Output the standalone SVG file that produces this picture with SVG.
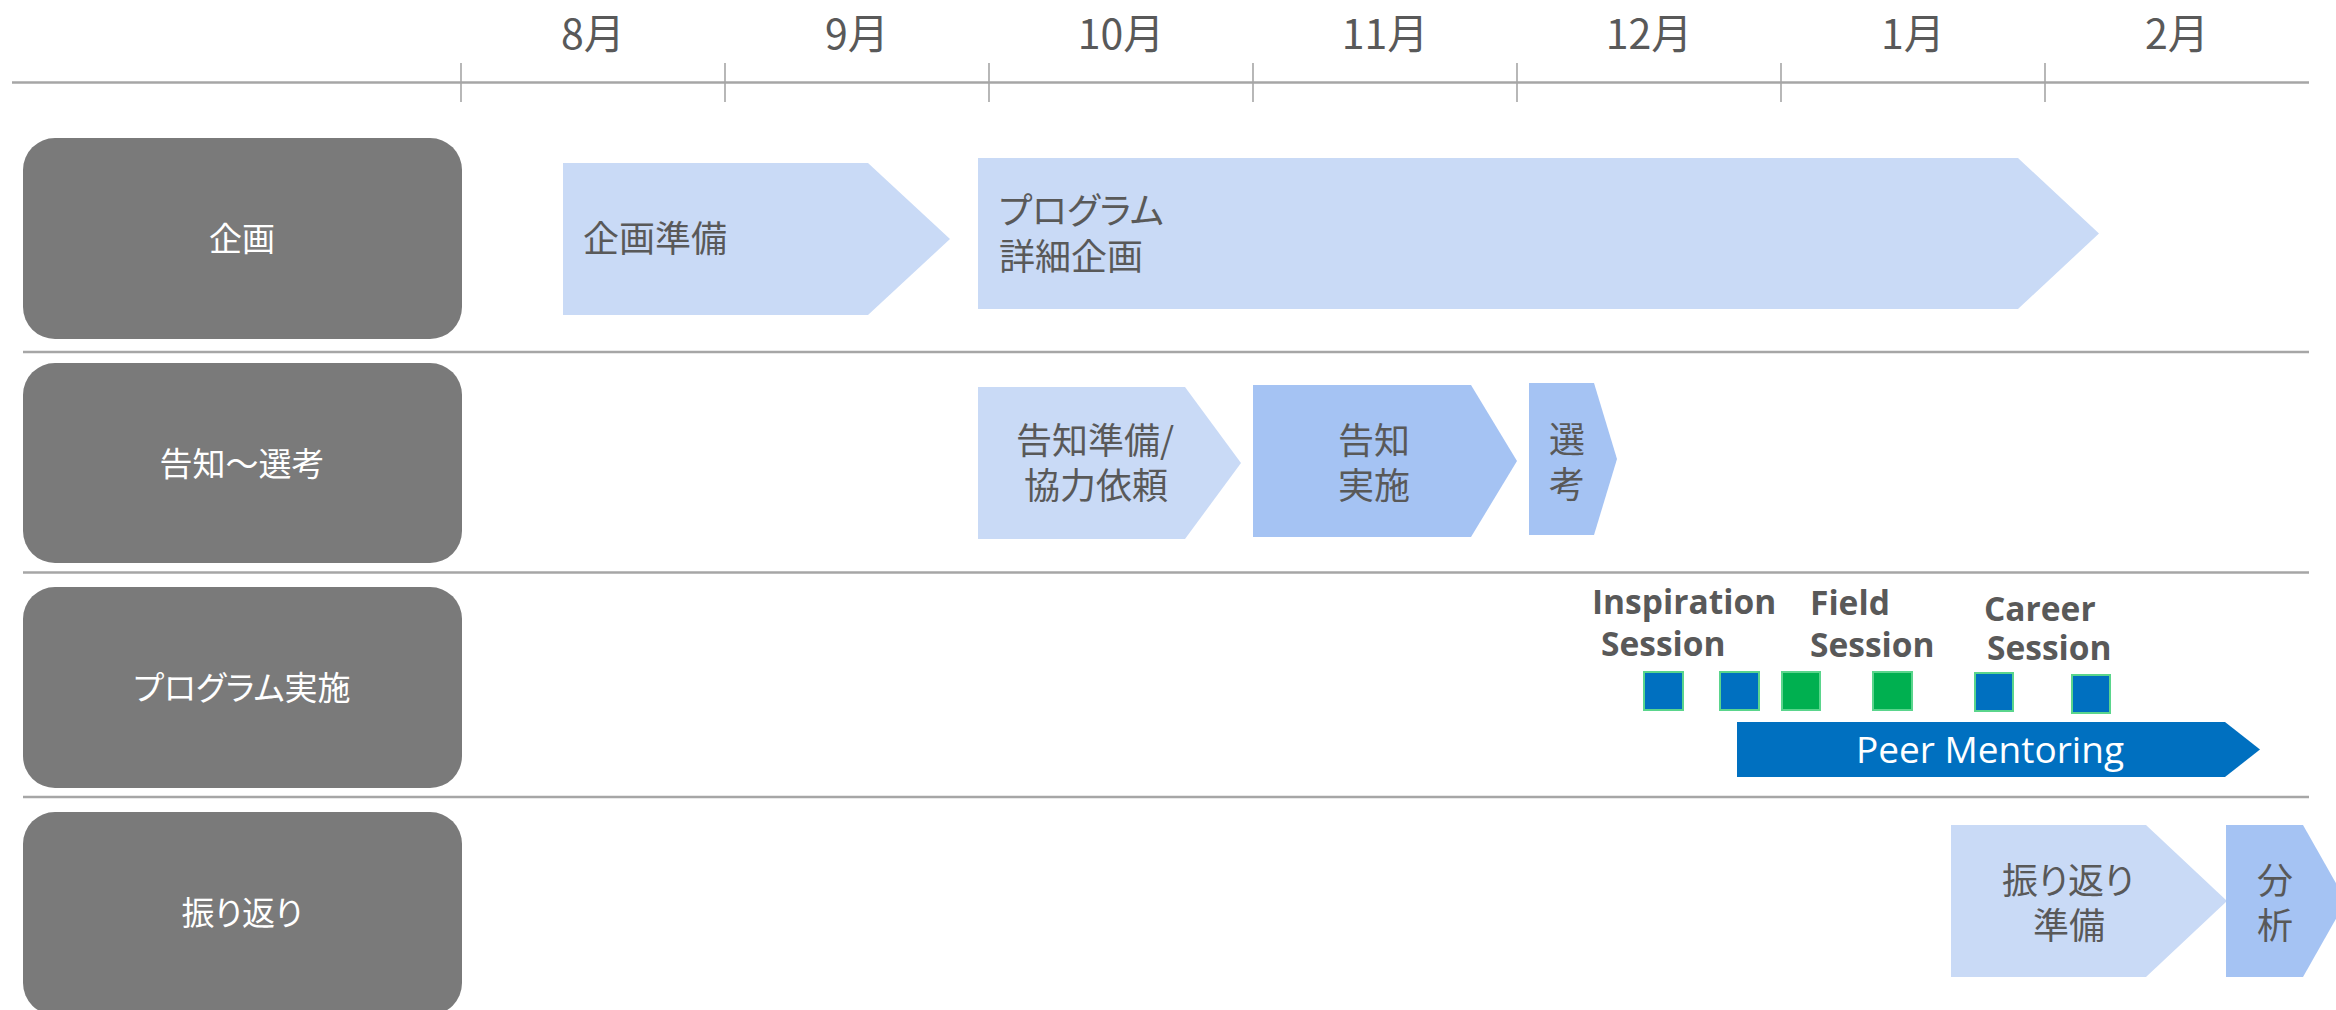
<svg xmlns="http://www.w3.org/2000/svg" width="2336" height="1010" viewBox="0 0 2336 1010">
<style>
.grid{stroke:#A6A6A6;stroke-width:2.5;fill:none}
.tick{stroke:#A6A6A6;stroke-width:1.6}
.month{font-family:"Noto Sans CJK JP","Liberation Sans",sans-serif;font-size:41px;fill:#595959;text-anchor:middle}
.lane{fill:#7A7A7A}
.laneText{font-family:"Noto Sans CJK JP",sans-serif;font-size:33px;fill:#FFFFFF;text-anchor:middle}
.light{fill:#C9DAF6}
.dark{fill:#A5C3F3}
.task{font-family:"Noto Sans CJK JP",sans-serif;font-size:36px;fill:#595959}
.mid{text-anchor:middle}
.palt{font-feature-settings:"palt"}
.blueSq{fill:#0070C0;stroke:#5AD58C;stroke-width:2}
.greenSq{fill:#00B050;stroke:#5AD58C;stroke-width:2}
.sess{font-family:"Open Sans","Liberation Sans",sans-serif;font-weight:bold;font-size:33.5px;fill:#595959}
.pm{fill:#0070C0}
.pmText{font-family:"Open Sans","Liberation Sans",sans-serif;font-size:37px;fill:#FFFFFF;text-anchor:middle}
</style>
<rect width="2336" height="1010" fill="#FFFFFF"/>

<g id="timeline">
  <line class="grid" x1="12" y1="82.5" x2="2309" y2="82.5"/>
  <line class="tick" x1="461" y1="63" x2="461" y2="102"/>
  <line class="tick" x1="725" y1="63" x2="725" y2="102"/>
  <line class="tick" x1="989" y1="63" x2="989" y2="102"/>
  <line class="tick" x1="1253" y1="63" x2="1253" y2="102"/>
  <line class="tick" x1="1517" y1="63" x2="1517" y2="102"/>
  <line class="tick" x1="1781" y1="63" x2="1781" y2="102"/>
  <line class="tick" x1="2045" y1="63" x2="2045" y2="102"/>
  <text class="month" x="593" y="49">8月</text>
  <text class="month" x="857" y="49">9月</text>
  <text class="month" x="1121" y="49">10月</text>
  <text class="month" x="1385" y="49">11月</text>
  <text class="month" x="1649" y="49">12月</text>
  <text class="month" x="1913" y="49">1月</text>
  <text class="month" x="2177" y="49">2月</text>
</g>

<g id="row-dividers">
  <line class="grid" x1="23" y1="352" x2="2309" y2="352"/>
  <line class="grid" x1="23" y1="572.5" x2="2309" y2="572.5"/>
  <line class="grid" x1="23" y1="797" x2="2309" y2="797"/>
</g>

<g id="lane-kikaku">
  <rect class="lane" x="23" y="138" width="439" height="201" rx="32" ry="32"/>
  <text class="laneText" x="242" y="251">企画</text>
</g>
<g id="lane-kokuchi">
  <rect class="lane" x="23" y="363" width="439" height="200" rx="32" ry="32"/>
  <text class="laneText" x="242" y="476">告知～選考</text>
</g>
<g id="lane-program">
  <rect class="lane" x="23" y="587" width="439" height="201" rx="32" ry="32"/>
  <text class="laneText palt" x="242" y="700">プログラム実施</text>
</g>
<g id="lane-furikaeri">
  <rect class="lane" x="23" y="812" width="439" height="203" rx="32" ry="32"/>
  <text class="laneText palt" x="242" y="925">振り返り</text>
</g>

<g id="task-kikaku-junbi">
  <polygon class="light" points="563,163 868,163 950,239 868,315 563,315"/>
  <text class="task" x="583" y="252">企画準備</text>
</g>
<g id="task-program-shosai">
  <polygon class="light" points="978,158 2018,158 2099,233.5 2018,309 978,309"/>
  <text class="task palt" x="999" y="224">プログラム</text>
  <text class="task" x="999" y="270">詳細企画</text>
</g>
<g id="task-kokuchi-junbi">
  <polygon class="light" points="978,387 1185,387 1241,463 1185,539 978,539"/>
  <text class="task mid" x="1095" y="454">告知準備/</text>
  <text class="task mid" x="1096" y="499">協力依頼</text>
</g>
<g id="task-kokuchi-jisshi">
  <polygon class="dark" points="1253,385 1471,385 1517,461 1471,537 1253,537"/>
  <text class="task mid" x="1374" y="454">告知</text>
  <text class="task mid" x="1374" y="499">実施</text>
</g>
<g id="task-senko">
  <polygon class="dark" points="1529,383 1594,383 1617,459 1594,535 1529,535"/>
  <text class="task mid" x="1567" y="453">選</text>
  <text class="task mid" x="1567" y="498">考</text>
</g>

<g id="label-inspiration">
  <text class="sess" x="1592" y="614">Inspiration</text>
  <text class="sess" x="1601" y="656">Session</text>
</g>
<g id="label-field">
  <text class="sess" x="1810" y="615">Field</text>
  <text class="sess" x="1810" y="657">Session</text>
</g>
<g id="label-career">
  <text class="sess" x="1984" y="621">Career</text>
  <text class="sess" x="1987" y="660">Session</text>
</g>

<g id="session-1"><rect class="blueSq" x="1644" y="672" width="39" height="38"/></g>
<g id="session-2"><rect class="blueSq" x="1720" y="672" width="39" height="38"/></g>
<g id="session-3"><rect class="greenSq" x="1782" y="672" width="38" height="38"/></g>
<g id="session-4"><rect class="greenSq" x="1873" y="672" width="39" height="38"/></g>
<g id="session-5"><rect class="blueSq" x="1975" y="673" width="38" height="38"/></g>
<g id="session-6"><rect class="blueSq" x="2072" y="675" width="38" height="38"/></g>

<g id="task-peer-mentoring">
  <polygon class="pm" points="1737,722 2225,722 2260,749.5 2225,777 1737,777"/>
  <text class="pmText" x="1990" y="763">Peer Mentoring</text>
</g>

<g id="task-furikaeri-junbi">
  <polygon class="light" points="1951,825 2146,825 2227,901 2146,977 1951,977"/>
  <text class="task mid palt" x="2068" y="894">振り返り</text>
  <text class="task mid" x="2069" y="939">準備</text>
</g>
<g id="task-bunseki">
  <polygon class="dark" points="2226,825 2303,825 2346,901 2303,977 2226,977"/>
  <text class="task mid" x="2275" y="894">分</text>
  <text class="task mid" x="2275" y="939">析</text>
</g>

<g id="connectors"></g>
</svg>
